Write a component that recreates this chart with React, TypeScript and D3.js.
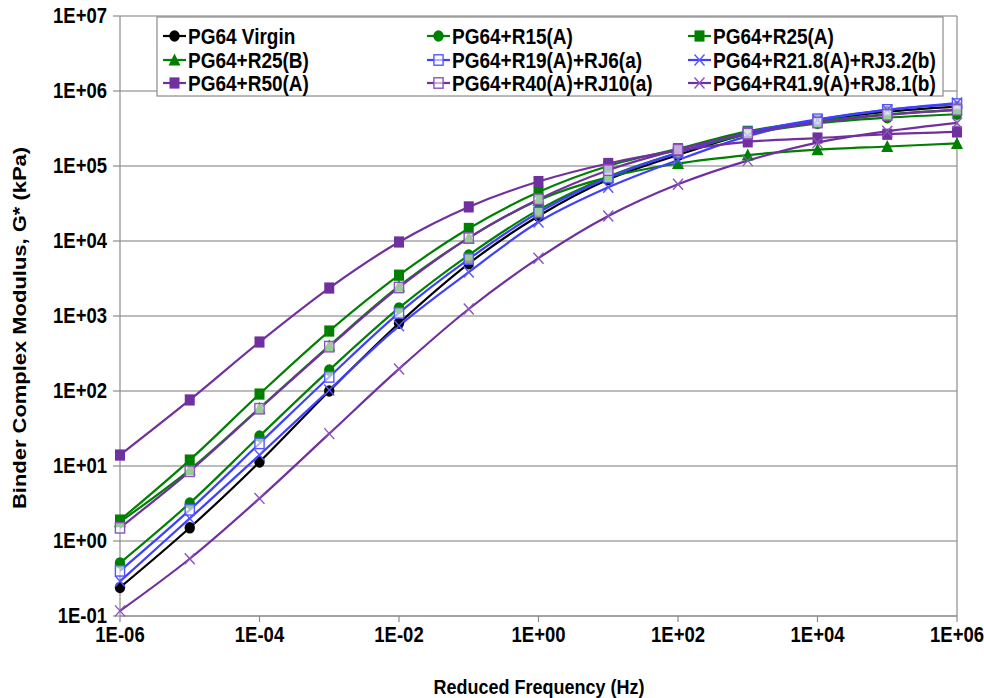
import React from "react";
import * as d3 from "d3";

const freq = [1e-6, 1e-5, 1e-4, 1e-3, 1e-2, 1e-1, 1e0, 1e1, 1e2, 1e3, 1e4, 1e5, 1e6];

const virgin = [0.24, 1.5, 11.3, 100, 800, 5000, 21500, 66000, 140000, 270000, 400000, 530000, 620000];
const r15a = [0.51, 3.2, 25, 190, 1280, 6500, 26000, 72000, 150000, 265000, 370000, 440000, 490000];
const r25a = [1.9, 12, 91, 630, 3500, 14700, 45000, 100000, 170000, 290000, 400000, 490000, 560000];
const r25b = [1.8, 8.9, 59, 400, 2500, 11000, 35000, 71000, 108000, 140000, 165000, 182000, 200000];
const r19rj6 = [0.4, 2.6, 20, 154, 1100, 5750, 24000, 70000, 150000, 280000, 420000, 560000, 670000];
const r218rj32 = [0.29, 2.0, 14, 103, 740, 3850, 17900, 52000, 120000, 250000, 410000, 560000, 690000];
const r50a = [14, 76, 450, 2360, 9700, 28500, 62000, 108000, 160000, 210000, 236000, 265000, 285000];
const r40rj10 = [1.5, 8.5, 58, 390, 2400, 11000, 36000, 88000, 165000, 270000, 380000, 480000, 560000];
const r419rj81 = [0.117, 0.58, 3.7, 27, 197, 1240, 5900, 21500, 57000, 118000, 205000, 290000, 375000];

const xTicks = [1e-6, 1e-4, 1e-2, 1e0, 1e2, 1e4, 1e6];
const xTickLabels = ["1E-06", "1E-04", "1E-02", "1E+00", "1E+02", "1E+04", "1E+06"];
const yTicks = [1e-1, 1e0, 1e1, 1e2, 1e3, 1e4, 1e5, 1e6, 1e7];
const yTickLabels = ["1E-01", "1E+00", "1E+01", "1E+02", "1E+03", "1E+04", "1E+05", "1E+06", "1E+07"];

const seriesNames = [
  "PG64 Virgin", "PG64+R15(A)", "PG64+R25(A)",
  "PG64+R25(B)", "PG64+R19(A)+RJ6(a)", "PG64+R21.8(A)+RJ3.2(b)",
  "PG64+R50(A)", "PG64+R40(A)+RJ10(a)", "PG64+R41.9(A)+RJ8.1(b)",
];
const seriesValues = [virgin, r15a, r25a, r25b, r19rj6, r218rj32, r50a, r40rj10, r419rj81];

type Marker = "circle" | "square" | "triangle" | "osquare" | "x";
const BLACK = "#000000";
const GREEN = "#008000";
const BLUE = "#3f3fff";
const PURPLE = "#7030a0";
const PURPLE_L = "#8a52bd";
const seriesStyle: { color: string; mcolor: string; marker: Marker }[] = [
  { color: BLACK, mcolor: BLACK, marker: "circle" },
  { color: GREEN, mcolor: GREEN, marker: "circle" },
  { color: GREEN, mcolor: GREEN, marker: "square" },
  { color: GREEN, mcolor: GREEN, marker: "triangle" },
  { color: BLUE, mcolor: "#5555ff", marker: "osquare" },
  { color: BLUE, mcolor: "#5555ff", marker: "x" },
  { color: PURPLE, mcolor: PURPLE, marker: "square" },
  { color: PURPLE, mcolor: PURPLE_L, marker: "osquare" },
  { color: PURPLE, mcolor: PURPLE_L, marker: "x" },
];

const W = 984, H = 698;
const L = 120, R = 957, T = 16, B = 616;
const FONT = "'Liberation Sans', Arial, sans-serif";
const SY = 1.15;

function MarkerShape({ m, x, y, c }: { m: Marker; x: number; y: number; c: string }) {
  const s = 5;
  switch (m) {
    case "circle":
      return <ellipse cx={x} cy={y} rx={5.2} ry={5.8} fill={c} />;
    case "square":
      return <rect x={x - s} y={y - 5.6} width={2 * s} height={11.2} fill={c} />;
    case "triangle":
      return <path d={`M${x},${y - 6.5}L${x + 6},${y + 5.5}L${x - 6},${y + 5.5}Z`} fill={c} />;
    case "osquare":
      return <rect x={x - 4.6} y={y - 5.2} width={9.2} height={10.4} fill="white" fillOpacity={0.6} stroke={c} strokeWidth={1.4} />;
    case "x":
      return (
        <g stroke={c} strokeWidth={1.4}>
          <line x1={x - 5} y1={y - 5.5} x2={x + 5} y2={y + 5.5} />
          <line x1={x - 5} y1={y + 5.5} x2={x + 5} y2={y - 5.5} />
        </g>
      );
  }
}

function HText({ x, y, anchor, size, children }: { x: number; y: number; anchor?: string; size: number; children: React.ReactNode }) {
  return (
    <text transform={`translate(${x},${y}) scale(1,${SY})`} textAnchor={anchor || "start"} fontSize={size} fontWeight="bold" dy="0.35em">
      {children}
    </text>
  );
}

export default function App() {
  const x = d3.scaleLog().domain([1e-6, 1e6]).range([L, R]);
  const y = d3.scaleLog().domain([1e-1, 1e7]).range([B, T]);
  const line = d3
    .line<number>()
    .x((_, i) => x(freq[i]))
    .y((v) => y(v))
    .curve(d3.curveCatmullRom.alpha(0.5));

  const legendX = [163, 427, 688];
  const legendY = [36, 60, 83];

  return (
    <svg width={W} height={H} style={{ position: "absolute", left: 0, top: 0, background: "white" }} fontFamily={FONT}>
      <rect x={0} y={0} width={W} height={H} fill="white" />
      {yTicks.map((t) => (
        <line key={t} x1={L} x2={R} y1={y(t)} y2={y(t)} stroke="#a6a6a6" strokeWidth={1.5} />
      ))}
      <line x1={L} x2={L} y1={T} y2={B} stroke="#8c8c8c" strokeWidth={1.2} />
      <line x1={R} x2={R} y1={T} y2={B} stroke="#8c8c8c" strokeWidth={1.2} />
      <line x1={L} x2={R} y1={B} y2={B} stroke="#8c8c8c" strokeWidth={1.2} />
      {yTicks.map((t, i) => (
        <g key={"yt" + t}>
          <line x1={L - 7} x2={L} y1={y(t)} y2={y(t)} stroke="#8c8c8c" strokeWidth={1.2} />
          <HText x={107} y={y(t)} anchor="end" size={18.5}>
            {yTickLabels[i]}
          </HText>
        </g>
      ))}
      {xTicks.map((t, i) => (
        <g key={"xt" + t}>
          <line x1={x(t)} x2={x(t)} y1={B} y2={B + 6} stroke="#8c8c8c" strokeWidth={1.2} />
          <HText x={x(t)} y={635} anchor="middle" size={18.5}>
            {xTickLabels[i]}
          </HText>
        </g>
      ))}
      {seriesValues.map((vals, si) => (
        <path key={"l" + si} d={line(vals) || ""} fill="none" stroke={seriesStyle[si].color} strokeWidth={2.2} />
      ))}
      {seriesValues.map((vals, si) => (
        <g key={"m" + si}>
          {vals.map((v, i) => (
            <MarkerShape key={i} m={seriesStyle[si].marker} x={x(freq[i])} y={y(v)} c={seriesStyle[si].mcolor} />
          ))}
        </g>
      ))}
      <rect x={157} y={17} width={786} height={79} fill="white" stroke="#8c8c8c" strokeWidth={1.2} />
      {seriesNames.map((name, i) => {
        const lx = legendX[i % 3];
        const ly = legendY[Math.floor(i / 3)];
        const st = seriesStyle[i];
        return (
          <g key={"lg" + i}>
            <line x1={lx} x2={lx + 23} y1={ly} y2={ly} stroke={st.color} strokeWidth={2.2} />
            <MarkerShape m={st.marker} x={lx + 11.5} y={ly} c={st.mcolor} />
            <HText x={lx + 25} y={ly} size={19}>
              {name}
            </HText>
          </g>
        );
      })}
      <HText x={539} y={687} anchor="middle" size={18}>
        Reduced Frequency (Hz)
      </HText>
      <text transform={`translate(26,328) scale(1,1.22) rotate(-90)`} textAnchor="middle" fontSize={18} fontWeight="bold">
        Binder Complex Modulus, G* (kPa)
      </text>
    </svg>
  );
}
